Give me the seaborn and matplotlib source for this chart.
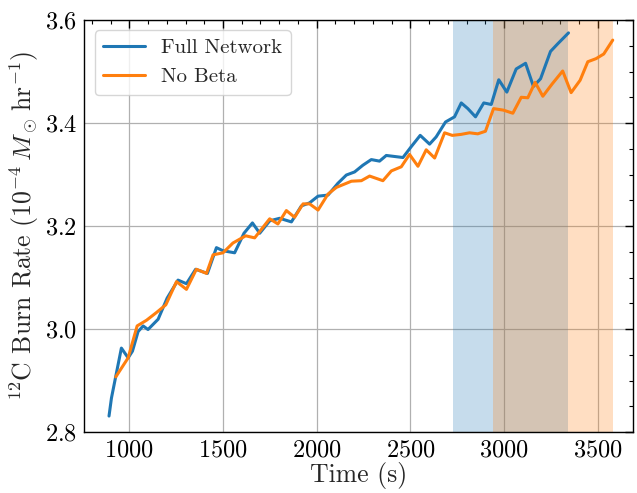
import matplotlib
matplotlib.use("Agg")
import matplotlib.pyplot as plt
from matplotlib.ticker import MultipleLocator
import seaborn as sns
import pandas as pd

# Carbon-12 burn rate versus time for the two reaction networks
full_time = [892, 905, 958, 994, 1017, 1047, 1074, 1100, 1154, 1202, 1260, 1305,
             1354, 1417, 1465, 1500, 1562, 1612, 1657, 1696, 1749, 1802, 1865,
             1918, 1962, 2007, 2060, 2113, 2158, 2202, 2246, 2291, 2335, 2371,
             2460, 2504, 2552, 2602, 2637, 2687, 2735, 2771, 2806, 2847, 2891,
             2931, 2971, 3014, 3064, 3114, 3156, 3194, 3247, 3286, 3343]
full_rate = [2.831, 2.866, 2.963, 2.944, 2.957, 2.995, 3.006, 2.999, 3.019, 3.060,
             3.095, 3.088, 3.116, 3.108, 3.158, 3.152, 3.148, 3.186, 3.206, 3.186,
             3.210, 3.215, 3.208, 3.239, 3.245, 3.258, 3.260, 3.283, 3.299, 3.305,
             3.318, 3.329, 3.326, 3.337, 3.333, 3.354, 3.376, 3.359, 3.373, 3.402,
             3.412, 3.439, 3.428, 3.412, 3.439, 3.436, 3.484, 3.460, 3.505, 3.516,
             3.471, 3.486, 3.539, 3.554, 3.575]

nobeta_time = [928, 994, 1042, 1092, 1145, 1195, 1252, 1305, 1358, 1412, 1447,
               1500, 1553, 1621, 1669, 1749, 1793, 1838, 1882, 1927, 1962, 2007,
               2060, 2105, 2185, 2238, 2282, 2353, 2398, 2451, 2495, 2540, 2584,
               2629, 2682, 2723, 2771, 2815, 2859, 2900, 2943, 2996, 3046, 3091,
               3126, 3165, 3206, 3256, 3312, 3357, 3405, 3446, 3490, 3531, 3579]
nobeta_rate = [2.907, 2.944, 3.006, 3.017, 3.032, 3.047, 3.092, 3.077, 3.116, 3.108,
               3.144, 3.148, 3.167, 3.181, 3.177, 3.214, 3.204, 3.230, 3.217, 3.243,
               3.243, 3.231, 3.262, 3.275, 3.287, 3.288, 3.297, 3.288, 3.307, 3.315,
               3.339, 3.316, 3.348, 3.332, 3.381, 3.376, 3.378, 3.381, 3.379, 3.384,
               3.428, 3.425, 3.419, 3.450, 3.449, 3.479, 3.452, 3.476, 3.501, 3.459,
               3.483, 3.519, 3.525, 3.534, 3.561]

# Time windows highlighted for each run
full_window = (2728, 3343)
nobeta_window = (2941, 3579)

series_labels = ["Full Network", "No Beta"]

sns.set_style("white")
plt.rcParams.update({
    "font.family": ["cmr10", "DejaVu Serif"],
    "mathtext.fontset": "cm",
    "axes.formatter.use_mathtext": True,
    "font.size": 17.5,
    "axes.unicode_minus": False,
})

palette = sns.color_palette("tab10")

fig = plt.figure(figsize=(6.37, 4.93), dpi=100)
ax = fig.add_axes([0.132, 0.1237, 0.8617, 0.8357])

full_df = pd.DataFrame({"time": full_time, "rate": full_rate})
nobeta_df = pd.DataFrame({"time": nobeta_time, "rate": nobeta_rate})

ax.axvspan(*full_window, color=palette[0], alpha=0.25, lw=0)
ax.axvspan(*nobeta_window, color=palette[1], alpha=0.25, lw=0)

sns.lineplot(data=full_df, x="time", y="rate", ax=ax, color=palette[0],
             lw=2.2, label=series_labels[0])
sns.lineplot(data=nobeta_df, x="time", y="rate", ax=ax, color=palette[1],
             lw=2.2, label=series_labels[1])

ax.set_xlim(759, 3687)
ax.set_ylim(2.8, 3.6)
ax.xaxis.set_major_locator(MultipleLocator(500))
ax.xaxis.set_minor_locator(MultipleLocator(100))
ax.yaxis.set_major_locator(MultipleLocator(0.2))
ax.yaxis.set_minor_locator(MultipleLocator(0.05))
ax.tick_params(which="both", direction="in", top=True, right=True,
               labelsize=17.5, colors="black")
ax.tick_params(which="major", length=6, width=1, pad=5)
ax.tick_params(which="minor", length=3, width=0.8)
for spine in ax.spines.values():
    spine.set_color("black")
    spine.set_linewidth(1)

ax.grid(True, which="major", color="#b0b0b0", lw=0.9)

ax.set_xlabel("Time (s)", fontsize=18.5, labelpad=1)
ax.set_ylabel(r"$^{12}$C Burn Rate ($10^{-4}\,M_\odot\,\mathrm{hr}^{-1}$)",
              fontsize=18.5, labelpad=3)

ax.legend(loc="upper left", fontsize=15, frameon=True, fancybox=True,
          framealpha=0.8, edgecolor="#cccccc")

fig.savefig("out.png", dpi=100)
